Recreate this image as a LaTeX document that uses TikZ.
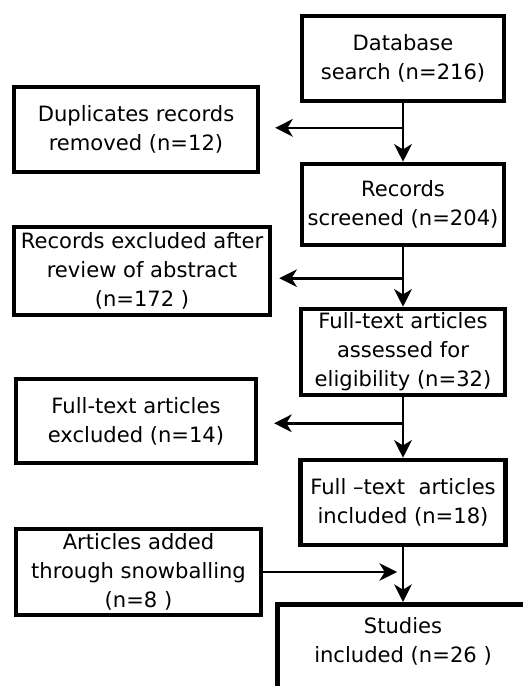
\documentclass[tikz,border=0pt]{standalone}
\usepackage{fontspec}
\setmainfont{DejaVu Sans}
\usetikzlibrary{arrows.meta,calc,positioning}

\begin{document}
\begin{tikzpicture}[x=0.02cm,y=-0.02cm,
    every node/.style={font=\fontsize{12}{16.5}\selectfont,align=center},
    box/.style={draw,line width=2.6pt,inner sep=0pt},
    flow/.style={line width=1.5pt,-{Stealth[length=10pt,width=10pt,inset=3pt]}}]

    \useasboundingbox (0,0) rectangle (523,686);
    \clip (0,0) rectangle (523,686);

    % main column
    \node[box,minimum width=4.04cm,minimum height=1.70cm] (SEARCH) at (403,58.5) {Database\\search (n=216)};
    \node[box,minimum width=4.04cm,minimum height=1.62cm] (SCREENED) at (403,204.5) {Records\\screened (n=204)};
    \node[box,minimum width=4.08cm,minimum height=1.72cm] (ASSESSED) at (403,352) {Full-text articles\\assessed for\\eligibility (n=32)};
    \node[box,minimum width=4.10cm,minimum height=1.70cm] (INCLUDED) at (403,502.5) {Full –text\ \ articles\\included (n=18)};
    \node[box,anchor=north west,minimum width=6cm,minimum height=3cm] (STUDIES) at (275,602) {};
    \node (STUDIESTEXT) at (403,641) {Studies\\included (n=26 )};

    % side boxes
    \node[box,minimum width=4.88cm,minimum height=1.70cm] (DUPLICATES) at (136,129.5) {Duplicates records\\removed (n=12)};
    \node[box,minimum width=5.12cm,minimum height=1.76cm] (EXCLUDED) at (142,271) {Records excluded after\\review of abstract\\(n=172 )};
    \node[box,minimum width=4.80cm,minimum height=1.68cm] (FTEXCLUDED) at (136,421) {Full-text articles\\excluded (n=14)};
    \node[box,minimum width=4.90cm,minimum height=1.72cm] (SNOWBALL) at (138.5,572) {Articles added\\through snowballing\\(n=8 )};

    \foreach \a/\b/\c/\r/\s in {SEARCH/SCREENED/DUPLICATES/.42/8.5pt,
                                SCREENED/ASSESSED/EXCLUDED/.52/4pt,
                                ASSESSED/INCLUDED/FTEXCLUDED/.43/9pt} {
      \path[flow,draw] (\a) -- (\a |- \b.north);
      \coordinate (B\a) at ($(\a.south)!\r!(\a |- \b.north)$);
      \path[flow,draw,shorten >=\s] (B\a) -- (B\a -| \c.east);
    }

    \path[flow,draw] (INCLUDED) -- (INCLUDED |- STUDIES.north);
    \coordinate (BINCLUDED) at ($(INCLUDED.south)!.47!(INCLUDED |- STUDIES.north)$);
    \path[flow,draw,shorten >=3.4pt] (SNOWBALL.east) -- (SNOWBALL.east -| BINCLUDED);
  \end{tikzpicture}
\end{document}
